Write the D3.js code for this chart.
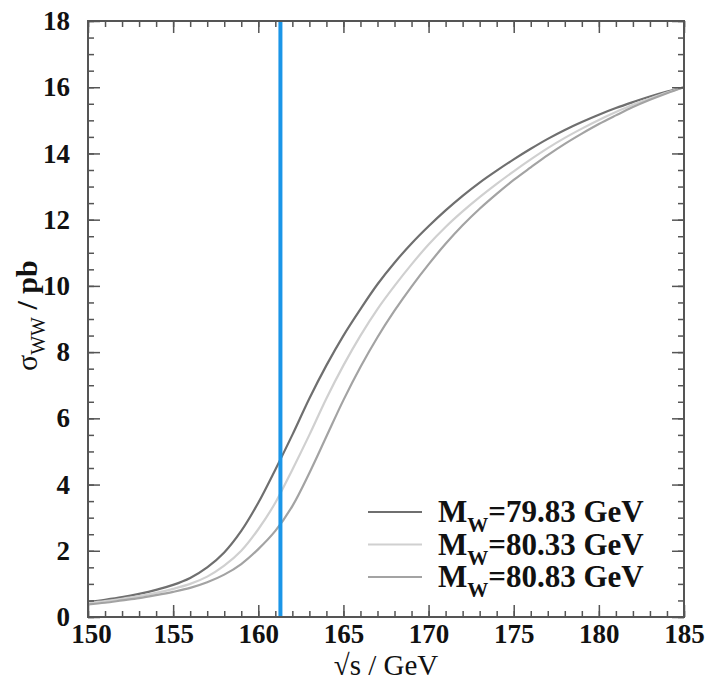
<!DOCTYPE html>
<html>
<head>
<meta charset="utf-8">
<script src="https://cdn.jsdelivr.net/npm/d3@7"></script>
<style>
  body { margin: 0; background: #fff; }
  svg { display: block; font-family: "Liberation Serif", "DejaVu Serif", serif; }
</style>
</head>
<body>
<div id="chart"></div>
<script>
// sqrt(s) grid in GeV
const energies = [150, 151, 152, 153, 154, 155, 156, 157, 158, 159, 160, 161, 162, 163, 164, 165, 166, 167,
  168, 169, 170, 171, 172, 173, 174, 175, 176, 177, 178, 179, 180, 181, 182, 183, 184, 185];

// sigma_WW in pb
const sigmaMw7983 = [0.45, 0.52, 0.6, 0.7, 0.82, 0.97, 1.18, 1.5, 1.95, 2.6, 3.45, 4.45, 5.5, 6.6, 7.6, 8.5,
  9.3, 10.05, 10.7, 11.28, 11.8, 12.28, 12.72, 13.12, 13.48, 13.82, 14.14, 14.44, 14.71, 14.95, 15.17, 15.37,
  15.55, 15.72, 15.87, 16.0];
const sigmaMw8033 = [0.42, 0.48, 0.55, 0.63, 0.73, 0.85, 1.0, 1.22, 1.55, 2.0, 2.65, 3.45, 4.45, 5.5, 6.6, 7.6,
  8.5, 9.3, 10.0, 10.65, 11.25, 11.78, 12.25, 12.68, 13.08, 13.46, 13.82, 14.16, 14.47, 14.75, 15.01, 15.25,
  15.47, 15.66, 15.84, 16.0];
const sigmaMw8083 = [0.38, 0.43, 0.5, 0.57, 0.66, 0.76, 0.88, 1.05, 1.28, 1.6, 2.05, 2.6, 3.35, 4.35, 5.45, 6.55,
  7.55, 8.45, 9.25, 9.98, 10.65, 11.27, 11.83, 12.33, 12.78, 13.2, 13.58, 13.95, 14.29, 14.6, 14.89, 15.15,
  15.4, 15.62, 15.82, 16.0];

const seriesMasses = ['79.83', '80.33', '80.83'];
const seriesValues = [sigmaMw7983, sigmaMw8033, sigmaMw8083];
const seriesColors = ['#6f6f6f', '#d0d0d0', '#a3a3a3'];

const thresholdEnergy = 161.3;

const xTicks = [150, 155, 160, 165, 170, 175, 180, 185];
const yTicks = [0, 2, 4, 6, 8, 10, 12, 14, 16, 18];

const width = 706;
const height = 681;
const margin = { top: 21, right: 22, bottom: 64, left: 88 };
const innerW = width - margin.left - margin.right;
const innerH = height - margin.top - margin.bottom;

const svg = d3.select('#chart')
  .append('svg')
  .attr('width', width)
  .attr('height', height);

const x = d3.scaleLinear().domain([150, 185]).range([margin.left, margin.left + innerW]);
const y = d3.scaleLinear().domain([0, 18]).range([margin.top + innerH, margin.top]);

const frameColor = '#555';
const xMinor = d3.range(150, 185.01, 1);
const yMinor = d3.range(0, 18.01, 0.5);

// curves
const line = d3.line()
  .x((d) => x(d[0]))
  .y((d) => y(d[1]))
  .curve(d3.curveCatmullRom.alpha(0.5));

seriesValues.forEach((vals, i) => {
  svg.append('path')
    .datum(energies.map((e, j) => [e, vals[j]]))
    .attr('fill', 'none')
    .attr('stroke', seriesColors[i])
    .attr('stroke-width', 2.2)
    .attr('d', line);
});

// threshold marker
svg.append('line')
  .attr('x1', x(thresholdEnergy))
  .attr('x2', x(thresholdEnergy))
  .attr('y1', y(18))
  .attr('y2', y(0))
  .attr('stroke', '#1b96e8')
  .attr('stroke-width', 4);

// minor + major ticks on all four sides, pointing inward
function styleAxis(g) {
  g.select('.domain').remove();
  g.selectAll('.tick line').attr('stroke', frameColor).attr('stroke-width', 1.5);
}

function styleLabels(g) {
  g.selectAll('.tick text')
    .attr('fill', '#111')
    .attr('font-size', 27)
    .attr('font-weight', 'bold')
    .attr('font-family', '"Liberation Serif", serif');
}

svg.append('g')
  .attr('transform', `translate(0,${y(0)})`)
  .call(d3.axisBottom(x).tickValues(xMinor).tickSize(-6).tickFormat(''))
  .call(styleAxis);
svg.append('g')
  .attr('transform', `translate(0,${y(0)})`)
  .call(d3.axisBottom(x).tickValues(xTicks).tickSize(-12).tickPadding(7).tickFormat(d3.format('d')))
  .call(styleAxis)
  .call(styleLabels)
  .call((g) => g.selectAll('.tick text').filter((d) => d === 150).attr('dx', 3));

svg.append('g')
  .attr('transform', `translate(0,${y(18)})`)
  .call(d3.axisTop(x).tickValues(xMinor).tickSize(-6).tickFormat(''))
  .call(styleAxis);
svg.append('g')
  .attr('transform', `translate(0,${y(18)})`)
  .call(d3.axisTop(x).tickValues(xTicks).tickSize(-12).tickFormat(''))
  .call(styleAxis);

svg.append('g')
  .attr('transform', `translate(${x(150)},0)`)
  .call(d3.axisLeft(y).tickValues(yMinor).tickSize(-6).tickFormat(''))
  .call(styleAxis);
svg.append('g')
  .attr('transform', `translate(${x(150)},0)`)
  .call(d3.axisLeft(y).tickValues(yTicks).tickSize(-12).tickPadding(18).tickFormat(d3.format('d')))
  .call(styleAxis)
  .call(styleLabels);

svg.append('g')
  .attr('transform', `translate(${x(185)},0)`)
  .call(d3.axisRight(y).tickValues(yMinor).tickSize(-6).tickFormat(''))
  .call(styleAxis);
svg.append('g')
  .attr('transform', `translate(${x(185)},0)`)
  .call(d3.axisRight(y).tickValues(yTicks).tickSize(-12).tickFormat(''))
  .call(styleAxis);

// frame
svg.append('rect')
  .attr('x', x(150))
  .attr('y', y(18))
  .attr('width', x(185) - x(150))
  .attr('height', y(0) - y(18))
  .attr('fill', 'none')
  .attr('stroke', frameColor)
  .attr('stroke-width', 2);

// axis titles
svg.append('text')
  .attr('x', x(167.5))
  .attr('y', 675)
  .attr('text-anchor', 'middle')
  .attr('font-size', 29)
  .attr('fill', '#111')
  .text('√s / GeV');

const yTitle = svg.append('text')
  .attr('transform', `translate(37,${y(9.1)}) rotate(-90)`)
  .attr('text-anchor', 'middle')
  .attr('font-size', 30)
  .attr('fill', '#111');
yTitle.append('tspan').text('σ');
yTitle.append('tspan').attr('font-size', 20).attr('dy', 8).text('WW');
yTitle.append('tspan').attr('dy', -8).attr('font-weight', 'bold').text(' / pb');

// legend
const legend = svg.append('g').attr('transform', 'translate(368,512)');
seriesMasses.forEach((m, i) => {
  const row = legend.append('g').attr('transform', `translate(0,${i * 32.5})`);
  row.append('line')
    .attr('x1', 0)
    .attr('x2', 54)
    .attr('y1', 0)
    .attr('y2', 0)
    .attr('stroke', seriesColors[i])
    .attr('stroke-width', 2.2);
  const t = row.append('text')
    .attr('x', 70)
    .attr('y', 10)
    .attr('font-size', 31)
    .attr('font-weight', 'bold')
    .attr('fill', '#111');
  t.append('tspan').text('M');
  t.append('tspan').attr('font-size', 21).attr('dy', 10).text('W');
  t.append('tspan').attr('dy', -10).text(`=${m} GeV`);
});
</script>
</body>
</html>
